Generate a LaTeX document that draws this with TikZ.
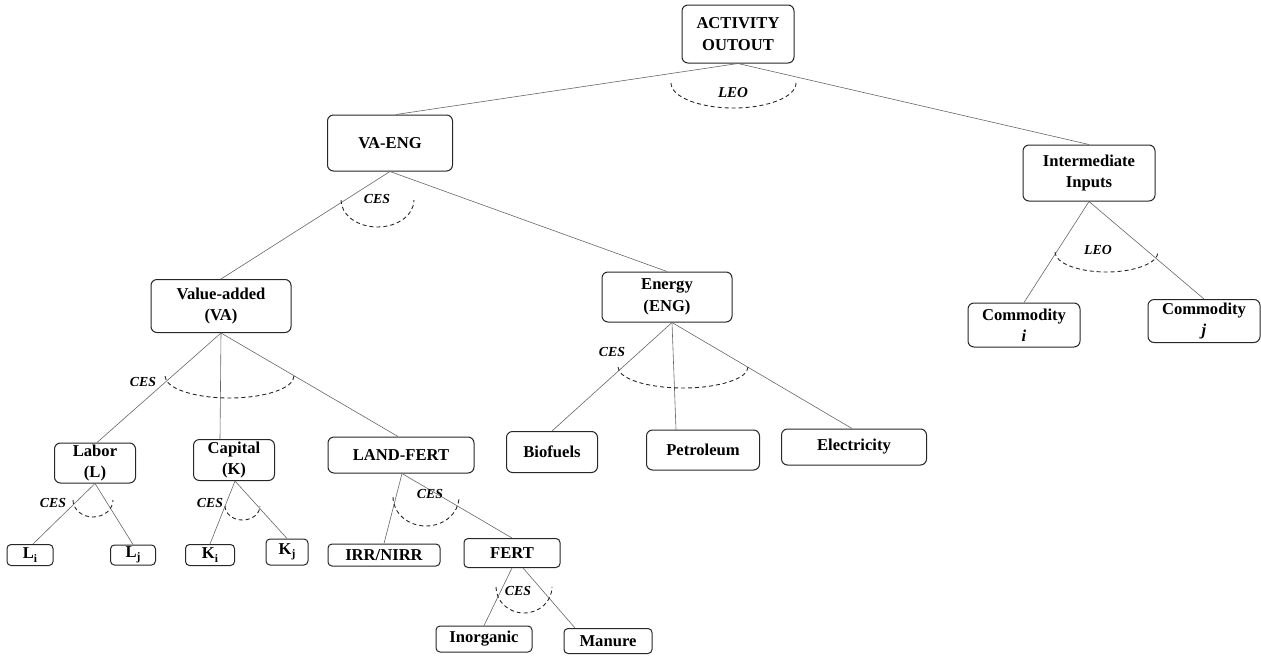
\documentclass[tikz,border=0pt]{standalone}
\usepackage{fontspec}
\setmainfont{Liberation Serif}
\begin{document}
\begin{tikzpicture}[x=1pt,y=-1pt,
  box/.style={draw=black!85, line width=1pt, rounded corners=6pt, inner sep=0pt, align=center,
    font=\bfseries\fontsize{16.6}{21.5}\selectfont},
  sbox/.style={box, rounded corners=4pt},
  link/.style={draw=black!60, line width=0.6pt},
  fn/.style={draw=black!85, line width=0.9pt, dash pattern=on 4pt off 3pt},
  fnlabel/.style={inner sep=0pt, font=\bfseries\itshape\fontsize{13.8}{14}\selectfont},
  leolabel/.style={fnlabel, font=\bfseries\itshape\fontsize{15}{15}\selectfont}]
\useasboundingbox (0,0) rectangle (1261,659);
\newcommand{\sbi}[1]{\raisebox{-3.5pt}{\fontsize{11.5}{11.5}\selectfont #1}}
% nodes
\node[box, minimum width=112pt, minimum height=58pt] (act) at (738,34) {ACTIVITY\\OUTOUT};
\node[box, minimum width=125pt, minimum height=56pt] (vaeng) at (390,143) {VA-ENG};
\node[box, minimum width=132pt, minimum height=56pt] (inter) at (1089,173) {Intermediate\\Inputs};
\node[box, minimum width=140pt, minimum height=53pt] (va) at (221,306) {Value-added\\(VA)};
\node[box, minimum width=130pt, minimum height=50pt] (eng) at (667,297) {Energy\\(ENG)};
\node[box, minimum width=112pt, minimum height=44pt] (comi) at (1024,325) {Commodity\\\textit{i}};
\node[box, minimum width=112pt, minimum height=43pt] (comj) at (1204,321) {Commodity\\\textit{j}};
\node[box, minimum width=81pt, minimum height=40pt] (labor) at (95,463) {Labor\\(L)};
\node[box, minimum width=81pt, minimum height=41pt] (capital) at (234,460) {Capital\\(K)};
\node[box, minimum width=146pt, minimum height=36pt] (landfert) at (401,455) {LAND-FERT};
\node[box, minimum width=91pt, minimum height=41pt] (bio) at (552,452) {Biofuels};
\node[box, minimum width=113pt, minimum height=40pt] (pet) at (703,450) {Petroleum};
\node[box, minimum width=145pt, minimum height=36pt] (elec) at (854,447) {Electricity};
\node[sbox, minimum width=46pt, minimum height=21pt] (li) at (30,555) {L\sbi{i}};
\node[sbox, minimum width=45pt, minimum height=20pt] (lj) at (133,555) {L\sbi{j}};
\node[sbox, minimum width=49pt, minimum height=21pt] (ki) at (210,555) {K\sbi{i}};
\node[sbox, minimum width=42pt, minimum height=26pt] (kj) at (287,552) {K\sbi{j}};
\node[sbox, minimum width=112pt, minimum height=22pt] (irr) at (384,555) {IRR/NIRR};
\node[sbox, minimum width=96pt, minimum height=29pt] (fert) at (512,553) {FERT};
\node[sbox, minimum width=96pt, minimum height=26pt] (inorg) at (484,639) {Inorganic};
\node[sbox, minimum width=88pt, minimum height=25pt] (manure) at (608,641) {Manure};
% connectors
\draw[link] (act.south) -- ([xshift=6pt]vaeng.north);
\draw[link] (act.south) -- (inter.north);
\draw[link] (vaeng.south) -- (va.north);
\draw[link] (vaeng.south) -- (eng.north);
\draw[link] (inter.south) -- (comi.north);
\draw[link] (inter.south) -- (comj.north);
\draw[link] (va.south) -- ([xshift=2pt]labor.north);
\draw[link] (va.south) -- ([xshift=-14pt]capital.north);
\draw[link] (va.south) -- ([xshift=-3pt]landfert.north);
\draw[link] ([xshift=5pt]eng.south) -- (bio.north);
\draw[link] ([xshift=5pt]eng.south) -- ([xshift=-27pt]pet.north);
\draw[link] ([xshift=5pt]eng.south) -- ([xshift=-2pt]elec.north);
\draw[link] (labor.south) -- ([xshift=3pt]li.north);
\draw[link] (labor.south) -- (lj.north);
\draw[link] ([xshift=1pt]capital.south) -- (ki.north);
\draw[link] ([xshift=1pt]capital.south) -- (kj.north);
\draw[link] ([xshift=1pt]landfert.south) -- (irr.north);
\draw[link] ([xshift=1pt]landfert.south) -- (fert.north);
\draw[link] (fert.south) -- (inorg.north);
\draw[link] ([xshift=11pt]fert.south) -- ([xshift=-33pt]manure.north);
% elasticity arcs
\draw[fn] (671,83) arc[start angle=180, end angle=360, x radius=62.5pt, y radius=25pt];
\node[leolabel] (leo1) at (733,93) {LEO};
\draw[fn] (341,200) arc[start angle=180, end angle=360, x radius=36.5pt, y radius=27pt];
\node[fnlabel] (ces1) at (377,199) {CES};
\draw[fn] (1055,252) arc[start angle=180, end angle=360, x radius=51.5pt, y radius=20pt];
\node[fnlabel] (leo2) at (1098,250) {LEO};
\draw[fn] (165,376) arc[start angle=180, end angle=360, x radius=64.5pt, y radius=22pt];
\node[fnlabel] (ces2) at (143,382) {CES};
\draw[fn] (618,367) arc[start angle=180, end angle=360, x radius=65pt, y radius=21pt];
\node[fnlabel] (ces3) at (612,352) {CES};
\draw[fn] (73,500) arc[start angle=180, end angle=360, x radius=20pt, y radius=17pt];
\node[fnlabel] (ces4) at (53,503) {CES};
\draw[fn] (225,506) arc[start angle=180, end angle=360, x radius=17.5pt, y radius=14pt];
\node[fnlabel] (ces5) at (210,503) {CES};
\draw[fn] (393,497) arc[start angle=180, end angle=360, x radius=33pt, y radius=29pt];
\node[fnlabel] (ces6) at (430,494) {CES};
\draw[fn] (496,587) arc[start angle=180, end angle=360, x radius=28pt, y radius=26pt];
\node[fnlabel] (ces7) at (518,591) {CES};
\end{tikzpicture}
\end{document}
